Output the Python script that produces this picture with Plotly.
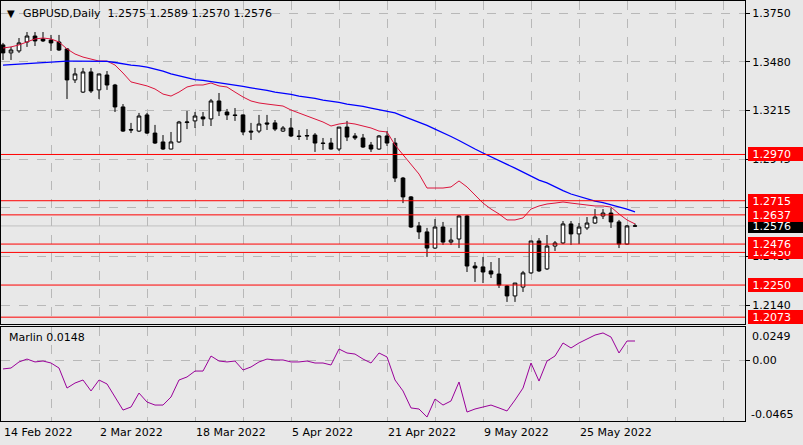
import plotly.graph_objects as go

# GBPUSD daily bars (bar 0 = 14 Feb 2022)
opens = [1.3574, 1.3530, 1.3541, 1.3590, 1.3623, 1.3607, 1.3601, 1.3590, 1.3552, 1.3381,
         1.3314, 1.3425, 1.3326, 1.3408, 1.3353, 1.3232, 1.3108, 1.3099, 1.3188, 1.3088,
         1.3039, 1.3000, 1.3039, 1.3146, 1.3155, 1.3177, 1.3166, 1.3265, 1.3204, 1.3188,
         1.3188, 1.3099, 1.3099, 1.3144, 1.3144, 1.3099, 1.3116, 1.3072, 1.3072, 1.3077,
         1.3033, 1.3033, 1.3000, 1.3121, 1.3072, 1.3061, 1.3022, 1.3000, 1.3072, 1.3033,
         1.2840, 1.2736, 1.2576, 1.2543, 1.2454, 1.2570, 1.2487, 1.2504, 1.2631, 1.2355,
         1.2350, 1.2328, 1.2311, 1.2245, 1.2190, 1.2239, 1.2317, 1.2493, 1.2339, 1.2465,
         1.2482, 1.2587, 1.2532, 1.2565, 1.2592, 1.2631, 1.2647, 1.2598, 1.2476, 1.2575]
highs = [1.3585, 1.3563, 1.3612, 1.3645, 1.3645, 1.3645, 1.3629, 1.3629, 1.3557, 1.3447,
         1.3447, 1.3447, 1.3414, 1.3430, 1.3359, 1.3248, 1.3144, 1.3199, 1.3199, 1.3133,
         1.3077, 1.3094, 1.3155, 1.3210, 1.3204, 1.3204, 1.3276, 1.3309, 1.3221, 1.3226,
         1.3190, 1.3144, 1.3188, 1.3188, 1.3160, 1.3127, 1.3171, 1.3105, 1.3110, 1.3088,
         1.3061, 1.3061, 1.3121, 1.3155, 1.3088, 1.3083, 1.3039, 1.3077, 1.3099, 1.3061,
         1.2846, 1.2741, 1.2598, 1.2565, 1.2614, 1.2598, 1.2565, 1.2636, 1.2636, 1.2377,
         1.2405, 1.2377, 1.2399, 1.2250, 1.2261, 1.2328, 1.2493, 1.2509, 1.2526, 1.2493,
         1.2603, 1.2603, 1.2592, 1.2625, 1.2669, 1.2669, 1.2675, 1.2609, 1.2581, 1.2589]
lows = [1.3491, 1.3491, 1.3530, 1.3563, 1.3568, 1.3590, 1.3541, 1.3541, 1.3276, 1.3364,
        1.3309, 1.3309, 1.3276, 1.3326, 1.3204, 1.3094, 1.3088, 1.3094, 1.3083, 1.3028,
        1.2995, 1.2998, 1.3034, 1.3110, 1.3116, 1.3127, 1.3127, 1.3182, 1.3160, 1.3155,
        1.3077, 1.3050, 1.3088, 1.3105, 1.3099, 1.3094, 1.3066, 1.3050, 1.3050, 1.2984,
        1.2995, 1.2997, 1.2989, 1.3044, 1.3050, 1.3006, 1.2984, 1.2995, 1.3017, 1.2818,
        1.2702, 1.2565, 1.2504, 1.2405, 1.2449, 1.2471, 1.2471, 1.2454, 1.2322, 1.2267,
        1.2261, 1.2289, 1.2234, 1.2157, 1.2157, 1.2212, 1.2312, 1.2322, 1.2333, 1.2438,
        1.2476, 1.2471, 1.2476, 1.2554, 1.2587, 1.2614, 1.2565, 1.2454, 1.2471, 1.2570]
closes = [1.3530, 1.3546, 1.3585, 1.3623, 1.3596, 1.3596, 1.3585, 1.3546, 1.3381, 1.3414,
          1.3425, 1.3320, 1.3414, 1.3353, 1.3232, 1.3099, 1.3105, 1.3182, 1.3088, 1.3033,
          1.3000, 1.3039, 1.3149, 1.3149, 1.3182, 1.3166, 1.3265, 1.3210, 1.3188, 1.3185,
          1.3094, 1.3094, 1.3138, 1.3138, 1.3110, 1.3116, 1.3072, 1.3069, 1.3074, 1.3033,
          1.3031, 1.3000, 1.3121, 1.3066, 1.3061, 1.3011, 1.3000, 1.3072, 1.3033, 1.2840,
          1.2736, 1.2570, 1.2543, 1.2454, 1.2570, 1.2487, 1.2498, 1.2631, 1.2355, 1.2344,
          1.2322, 1.2311, 1.2250, 1.2190, 1.2261, 1.2317, 1.2493, 1.2328, 1.2465, 1.2482,
          1.2587, 1.2532, 1.2570, 1.2592, 1.2625, 1.2647, 1.2598, 1.2476, 1.2576, 1.2576]

# moving averages (red = fast, blue = slow)
ma_red = [1.3557, 1.3563, 1.3574, 1.3590, 1.3607, 1.3612, 1.3607, 1.3590, 1.3552, 1.3524,
          1.3507, 1.3496, 1.3485, 1.3485, 1.3463, 1.3419, 1.3370, 1.3359, 1.3348, 1.3331,
          1.3303, 1.3292, 1.3314, 1.3342, 1.3353, 1.3353, 1.3364, 1.3348, 1.3342, 1.3314,
          1.3287, 1.3265, 1.3254, 1.3248, 1.3243, 1.3237, 1.3215, 1.3199, 1.3182, 1.3166,
          1.3149, 1.3127, 1.3138, 1.3144, 1.3138, 1.3127, 1.3116, 1.3099, 1.3094, 1.3022,
          1.2967, 1.2912, 1.2862, 1.2785, 1.2785, 1.2785, 1.2791, 1.2824, 1.2791, 1.2747,
          1.2702, 1.2669, 1.2642, 1.2609, 1.2609, 1.2620, 1.2669, 1.2686, 1.2697, 1.2702,
          1.2708, 1.2702, 1.2697, 1.2691, 1.2686, 1.2686, 1.2680, 1.2642, 1.2609, 1.2587]
ma_blue = [1.3463, 1.3466, 1.3469, 1.3472, 1.3474, 1.3477, 1.3480, 1.3483, 1.3485, 1.3485,
           1.3485, 1.3485, 1.3485, 1.3483, 1.3477, 1.3469, 1.3463, 1.3458, 1.3452, 1.3441,
           1.3430, 1.3414, 1.3403, 1.3392, 1.3383, 1.3378, 1.3372, 1.3364, 1.3359, 1.3350,
           1.3345, 1.3337, 1.3331, 1.3323, 1.3314, 1.3309, 1.3301, 1.3292, 1.3287, 1.3279,
           1.3270, 1.3265, 1.3257, 1.3248, 1.3243, 1.3235, 1.3226, 1.3218, 1.3210, 1.3199,
           1.3182, 1.3166, 1.3149, 1.3130, 1.3110, 1.3091, 1.3069, 1.3047, 1.3022, 1.3000,
           1.2978, 1.2956, 1.2934, 1.2915, 1.2895, 1.2873, 1.2851, 1.2829, 1.2813, 1.2791,
           1.2771, 1.2752, 1.2738, 1.2725, 1.2713, 1.2705, 1.2694, 1.2683, 1.2669, 1.2653]

# Marlin oscillator
marlin = [-0.0064, -0.0057, -0.0011, 0.0011, -0.0011, -0.0004, -0.0019, -0.0057, -0.0209, -0.0171,
          -0.0148, -0.0231, -0.0148, -0.0178, -0.0277, -0.0376, -0.0353, -0.0247, -0.0315, -0.0338,
          -0.0338, -0.0277, -0.0148, -0.0125, -0.0080, -0.0080, 0.0034, -0.0004, -0.0011, -0.0004,
          -0.0072, -0.0049, -0.0011, 0.0011, 0.0004, 0.0004, -0.0011, -0.0011, -0.0004, -0.0019,
          -0.0019, -0.0034, 0.0087, 0.0057, 0.0049, 0.0011, -0.0019, 0.0057, 0.0027, -0.0148,
          -0.0231, -0.0360, -0.0368, -0.0429, -0.0292, -0.0338, -0.0307, -0.0163, -0.0391, -0.0368,
          -0.0353, -0.0338, -0.0360, -0.0383, -0.0300, -0.0209, -0.0019, -0.0156, -0.0004, 0.0034,
          0.0133, 0.0095, 0.0133, 0.0163, 0.0193, 0.0209, 0.0178, 0.0057, 0.0148, 0.0148]

date_labels = ["14 Feb 2022", "2 Mar 2022", "18 Mar 2022", "5 Apr 2022",
               "21 Apr 2022", "9 May 2022", "25 May 2022"]
date_pos = [0, 12, 24, 36, 48, 60, 72]
levels = [1.2970, 1.2715, 1.2637, 1.2476, 1.2430, 1.2250, 1.2073]
price_ticks = [1.3750, 1.3480, 1.3215, 1.2945, 1.2680, 1.2410, 1.2140]
marlin_max, marlin_min = 0.0249, -0.0465

bars = list(range(len(opens)))

BG = '#e8e8e8'
GRID = '#b8b8b8'
FONT = 'DejaVu Sans'
W, H = 803, 445
ML, MR, MT, MB = 1, 58, 1, 24
PH = H - MT - MB


def py(px):
    # pixel row -> paper y
    return 1 - (px - MT) / PH


fig = go.Figure()

fig.add_trace(go.Candlestick(
    x=bars, open=opens, high=highs, low=lows, close=closes,
    increasing=dict(line=dict(color='black', width=1), fillcolor='white'),
    decreasing=dict(line=dict(color='black', width=1), fillcolor='black'),
    whiskerwidth=0, hoverinfo='skip', showlegend=False, xaxis='x', yaxis='y'))
fig.add_trace(go.Scatter(x=bars, y=ma_red, mode='lines', line=dict(color='#dc143c', width=1),
                         showlegend=False, hoverinfo='skip', xaxis='x', yaxis='y'))
fig.add_trace(go.Scatter(x=bars, y=ma_blue, mode='lines', line=dict(color='#0000ff', width=1.3),
                         showlegend=False, hoverinfo='skip', xaxis='x', yaxis='y'))
fig.add_trace(go.Scatter(x=bars, y=marlin, mode='lines', line=dict(color='#990099', width=1),
                         showlegend=False, hoverinfo='skip', xaxis='x2', yaxis='y2'))

shapes = [dict(type='line', xref='x domain', x0=0, x1=1, yref='y', y0=closes[-1], y1=closes[-1],
               line=dict(color='#c0c0c0', width=1), layer='below')]
for lv in levels:
    shapes.append(dict(type='line', xref='x domain', x0=0, x1=1, yref='y', y0=lv, y1=lv,
                       line=dict(color='#ff0000', width=1), layer='above'))

annotations = []
# current price label, then level labels (lower ones first so upper ones sit on top)
annotations.append(dict(xref='paper', x=1, xshift=3, xanchor='left', yref='y', y=closes[-1],
                        yanchor='middle', text='&nbsp;%.4f' % closes[-1], showarrow=False,
                        bgcolor='black', font=dict(family=FONT, size=11, color='white'),
                        width=55, height=12, borderpad=1, borderwidth=0, align='left'))
for lv in sorted(levels):
    annotations.append(dict(xref='paper', x=1, xshift=3, xanchor='left', yref='y', y=lv,
                            yanchor='middle', text='&nbsp;%.4f' % lv, showarrow=False,
                            bgcolor='#ff0000', font=dict(family=FONT, size=11, color='white'),
                            width=55, height=12, borderpad=1, borderwidth=0, align='left'))

annotations.append(dict(xref='paper', x=(5 - ML) / (W - ML - MR), xanchor='left', yref='paper',
                        y=py(13), yanchor='middle', text='▼', showarrow=False,
                        font=dict(family=FONT, size=10, color='black')))
annotations.append(dict(xref='paper', x=(21 - ML) / (W - ML - MR), xanchor='left', yref='paper',
                        y=py(13), yanchor='middle', showarrow=False,
                        text='GBPUSD,Daily&nbsp;&nbsp;%.4f %.4f %.4f %.4f'
                             % (opens[-1], highs[-1], lows[-1], closes[-1]),
                        font=dict(family=FONT, size=11, color='black')))
annotations.append(dict(xref='paper', x=(7 - ML) / (W - ML - MR), xanchor='left', yref='paper',
                        y=py(337), yanchor='middle', showarrow=False,
                        text='Marlin %.4f' % marlin[-1],
                        font=dict(family=FONT, size=11, color='black')))
# scale max / min of the indicator window, drawn just inside its top and bottom
annotations.append(dict(xref='paper', x=1, xshift=5, xanchor='left', yref='paper', y=py(336),
                        yanchor='middle', showarrow=False, text='%.4f' % marlin_max,
                        font=dict(family=FONT, size=11, color='black')))
annotations.append(dict(xref='paper', x=1, xshift=4, xanchor='left', yref='paper', y=py(414),
                        yanchor='middle', showarrow=False, text='%.4f' % marlin_min,
                        font=dict(family=FONT, size=11, color='black')))
for pos, lab in zip(date_pos, date_labels):
    annotations.append(dict(xref='x2', x=pos, xshift=-1, xanchor='left', yref='paper',
                            y=py(433), yanchor='middle', showarrow=False, text=lab,
                            font=dict(family=FONT, size=11, color='black')))

axis_common = dict(showline=True, mirror=True, linecolor='black', linewidth=1,
                   showgrid=True, gridcolor=GRID, griddash='dash', gridwidth=1,
                   zeroline=False, tickfont=dict(family=FONT, size=11, color='black'))

fig.update_layout(
    width=W, height=H,
    margin=dict(l=ML, r=MR, t=MT, b=MB),
    paper_bgcolor=BG, plot_bgcolor=BG,
    font=dict(family=FONT, size=11, color='black'),
    showlegend=False,
    boxgap=0.35,
    xaxis=dict(domain=[0, 1], anchor='y', range=[-0.25, 92.75],
               tickvals=list(range(6, 93, 6)), showticklabels=False, ticks='',
               rangeslider=dict(visible=False), **axis_common),
    xaxis2=dict(domain=[0, 1], anchor='y2', matches='x', range=[-0.25, 92.75],
                tickvals=list(range(6, 93, 6)), showticklabels=False, ticks='',
                **axis_common),
    yaxis=dict(domain=[py(324), 1], anchor='x', side='right', range=[1.20353, 1.381616],
               tickvals=price_ticks, ticktext=['%.4f' % t for t in price_ticks],
               ticks='outside', ticklen=4, tickcolor='black', **axis_common),
    yaxis2=dict(domain=[0, py(326.5)], anchor='x2', side='right', range=[-0.0459, 0.0258],
                tickvals=[0], ticktext=['0.00'],
                ticks='outside', ticklen=4, tickcolor='black', **axis_common),
    shapes=shapes,
    annotations=annotations,
)

# the page's default body margin would shift the figure by 8px
fig.write_html("out.html", config={'displayModeBar': False},
               post_script="document.body.style.margin='0';")
